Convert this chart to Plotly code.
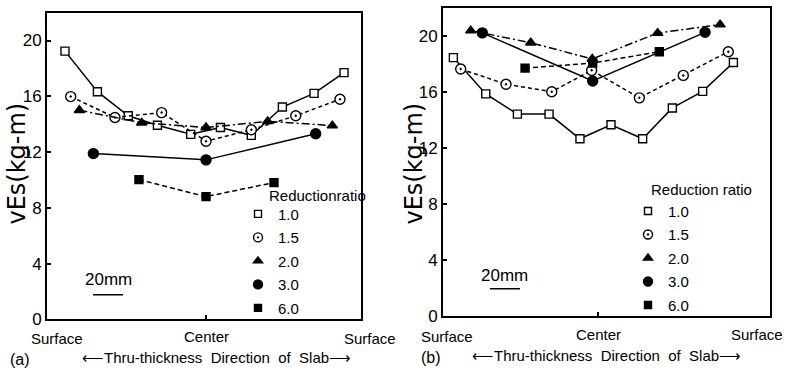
import plotly.graph_objects as go

# Positions through the slab thickness, mm from the slab centre
# ---------------- panel (a) ----------------
a_x_10 = [-94, -72.4, -51.8, -32.4, -10.2, 9.6, 30.2, 50.9, 72, 92]
a_y_10 = [19.24, 16.33, 14.6, 13.92, 13.27, 13.76, 13.2, 15.23, 16.21, 17.7]
a_x_15 = [-90.2, -60.7, -29.6, 0, 30.2, 59.8, 89.3]
a_y_15 = [15.98, 14.48, 14.83, 12.78, 13.6, 14.6, 15.79]
a_x_20 = [-84.4, -42.9, 0, 41.1, 84.2]
a_y_20 = [15.0, 14.1, 13.76, 14.2, 13.9]
a_x_30 = [-75.1, 0, 73.1]
a_y_30 = [11.89, 11.44, 13.31]
a_x_60 = [-44.7, 0, 45.3]
a_y_60 = [10.02, 8.8, 9.81]

# ---------------- panel (b) ----------------
b_x_10 = [-96.1, -74.5, -53.4, -32.3, -11.7, 9, 30.1, 49.9, 70.1, 90.6]
b_y_10 = [18.45, 15.86, 14.42, 14.42, 12.66, 13.66, 12.66, 14.86, 16.04, 18.1]
b_x_15 = [-91.2, -61, -30.5, -3.9, 27.9, 57.2, 87.2]
b_y_15 = [17.64, 16.55, 16.02, 17.54, 15.58, 17.18, 18.87]
b_x_20 = [-84.5, -44.5, -3.5, 40.1, 81.7]
b_y_20 = [20.37, 19.51, 18.35, 20.2, 20.8]
b_x_30 = [-76.8, -3.2, 71.7]
b_y_30 = [20.21, 16.78, 20.25]
b_x_60 = [-48.3, -3.2, 41.2]
b_y_60 = [17.7, 18.06, 18.87]

ratio_labels = ["1.0", "1.5", "2.0", "3.0", "6.0"]
y_ticks = [0, 4, 8, 12, 16, 20]

W, H = 786, 378
FONT = "Liberation Sans"


def px(x):
    return x / W


def py(y):
    return 1 - y / H


styles = {
    "1.0": dict(symbol="square", size=8, color="white", dash="solid"),
    "1.5": dict(symbol="circle-dot", size=10, color="white", dash="4px,3px"),
    "2.0": dict(symbol="triangle-up", size=9, color="black", dash="8px,3px,2px,3px"),
    "3.0": dict(symbol="circle", size=10, color="black", dash="solid"),
    "6.0": dict(symbol="square", size=8, color="black", dash="5px,3px"),
}

fig = go.Figure()

panels = [
    ("x", "y", "legend", [(a_x_10, a_y_10), (a_x_15, a_y_15), (a_x_20, a_y_20),
                          (a_x_30, a_y_30), (a_x_60, a_y_60)]),
    ("x2", "y2", "legend2", [(b_x_10, b_y_10), (b_x_15, b_y_15), (b_x_20, b_y_20),
                             (b_x_30, b_y_30), (b_x_60, b_y_60)]),
]

for xa, ya, leg, series in panels:
    for label, (xs, ys) in zip(ratio_labels, series):
        st = styles[label]
        fig.add_trace(go.Scatter(
            x=xs, y=ys, xaxis=xa, yaxis=ya, mode="lines+markers",
            line=dict(color="black", width=1.5, dash=st["dash"]),
            marker=dict(symbol=st["symbol"], size=st["size"], color=st["color"],
                        line=dict(color="black", width=1.4)),
            showlegend=False, hoverinfo="skip",
        ))
    # legend entries (markers only)
    for label in ratio_labels:
        st = styles[label]
        fig.add_trace(go.Scatter(
            x=[None], y=[None], xaxis=xa, yaxis=ya, mode="markers",
            marker=dict(symbol=st["symbol"], size=st["size"] - 1, color=st["color"],
                        line=dict(color="black", width=1.4)),
            name=label, legend=leg, legendgroup=leg + label, showlegend=True,
        ))

axis_common = dict(
    showline=True, linecolor="black", linewidth=2, mirror=True,
    showgrid=False, zeroline=False, ticks="inside", ticklen=4,
    tickcolor="black", tickwidth=1.5,
)

legend_common = dict(xanchor="left", yanchor="top", bgcolor="rgba(0,0,0,0)",
                     font=dict(size=15), tracegroupgap=1, itemwidth=30)

fig.update_layout(
    width=W, height=H, margin=dict(l=0, r=0, t=0, b=0),
    paper_bgcolor="white", plot_bgcolor="white",
    font=dict(family=FONT, color="black"),
    xaxis=dict(domain=[px(47), px(361)], range=[-106, 103.3], anchor="y",
               tickvals=[0], ticktext=[""], **axis_common),
    yaxis=dict(domain=[py(328), py(13)], range=[0, 22], anchor="x",
               tickvals=y_ticks, tickfont=dict(size=17), **axis_common),
    xaxis2=dict(domain=[px(443), px(770)], range=[-103, 115], anchor="y2",
                tickvals=[0], ticktext=[""], **axis_common),
    yaxis2=dict(domain=[py(325), py(8)], range=[0, 22], anchor="x2",
                tickvals=y_ticks, tickfont=dict(size=17), **axis_common),
    legend=dict(x=px(238), y=py(203), **legend_common),
    legend2=dict(x=px(628), y=py(200), **legend_common),
)

annotations = []


def note(text, x, y, size, family=FONT, **kw):
    annotations.append(dict(text=text, x=px(x), y=py(y), xref="paper", yref="paper",
                            showarrow=False, font=dict(size=size, family=family),
                            xanchor=kw.pop("xanchor", "center"),
                            yanchor=kw.pop("yanchor", "middle"), **kw))


# y axis titles
note("vEs(kg-m)", 17, 168, 24, family="DejaVu Sans", textangle=-90)
note("vEs(kg-m)", 414, 168, 24, family="DejaVu Sans", textangle=-90)
# legend headings
note("Reductionratio", 267, 201, 15, xanchor="left")
note("Reduction ratio", 649, 195, 15, xanchor="left")
# slab position labels
note("Surface", 57, 348, 15)
note("Center", 206, 346, 15)
note("Surface", 370, 348, 15)
note("Surface", 447, 346, 15)
note("Center", 598, 344, 15)
note("Surface", 757, 344, 15)
# panel captions
arrow_text = "\u27f5Thru-thickness  Direction  of  Slab\u27f6"
note("(a)", 20, 369, 16)
note(arrow_text, 216, 367, 15)
note("(b)", 431, 367, 16)
note(arrow_text, 606, 365, 15)

# 20 mm scale bars, drawn in slab units
annotations.append(dict(text="20mm", x=-65.3, y=2.85, xref="x", yref="y", showarrow=False,
                        font=dict(size=17, family=FONT)))
annotations.append(dict(text="20mm", x=-61.7, y=2.95, xref="x2", yref="y2", showarrow=False,
                        font=dict(size=17, family=FONT)))
fig.update_layout(annotations=annotations)
fig.add_shape(type="line", xref="x", yref="y", x0=-75.3, x1=-55.3, y0=1.77, y1=1.77,
              line=dict(color="black", width=1.5))
fig.add_shape(type="line", xref="x2", yref="y2", x0=-71.7, x1=-51.7, y0=1.97, y1=1.97,
              line=dict(color="black", width=1.5))

fig.write_html("out.html")
